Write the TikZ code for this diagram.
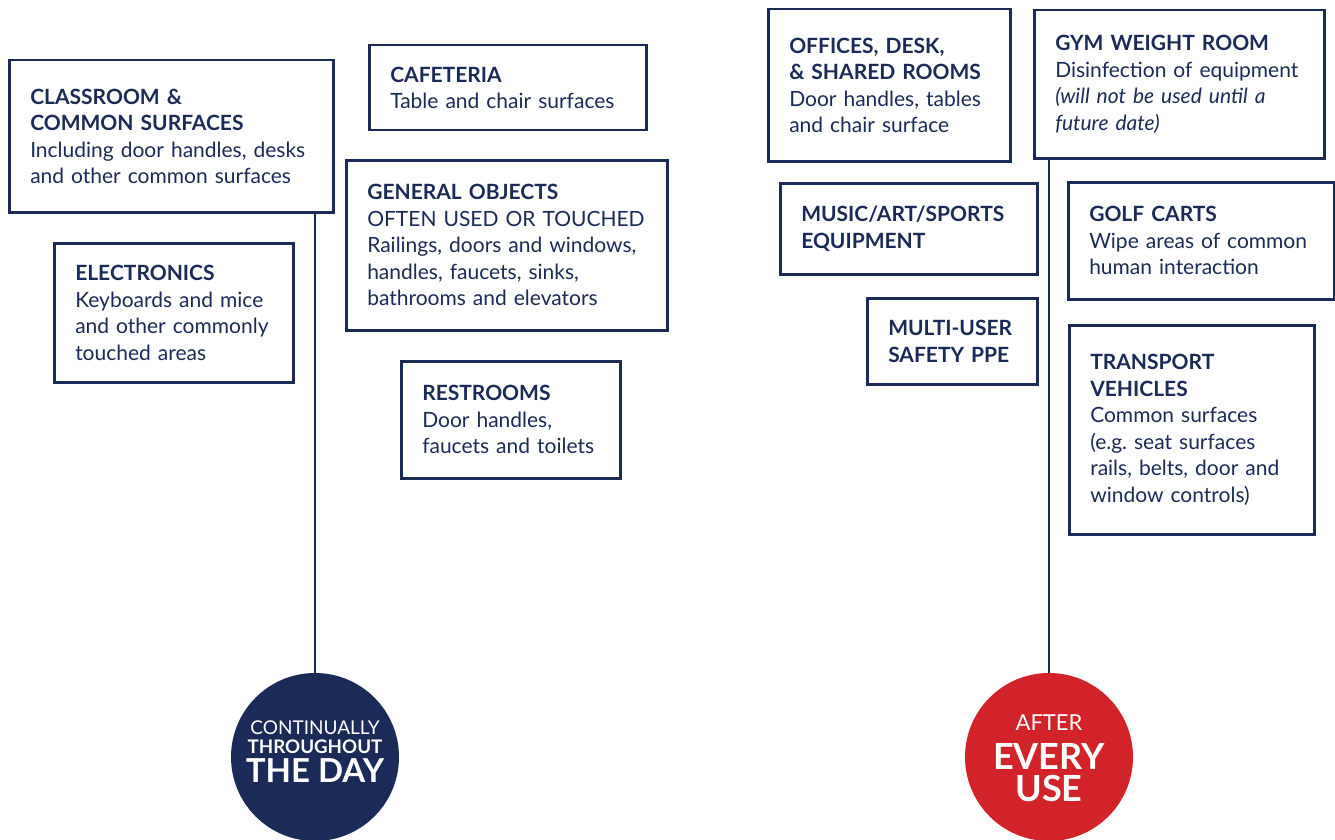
\documentclass[tikz,border=0pt]{standalone}
\usepackage{fontspec}
\setmainfont{Lato}
\definecolor{navy}{HTML}{1B2A56}
\definecolor{alertred}{HTML}{D2232A}
\begin{document}
\begin{tikzpicture}[x=1pt,y=-1pt,
  box/.style={draw=navy, line width=2.5pt, anchor=north west, align=left,
    inner xsep=21pt, inner ysep=0pt, text=navy,
    font=\fontsize{21}{26.5}\selectfont},
  stem/.style={draw=navy, line width=2.5pt},
  badge/.style={circle, inner sep=0pt, minimum size=168pt},
  badgetext/.style={anchor=base, inner sep=0pt, text=white, text depth=0pt}
]
\useasboundingbox (0,0) rectangle (1335,840);
\clip (0,0) rectangle (1335,840);

% left group: continually throughout the day
\node[box, text width=282pt, minimum height=152pt] (cls) at (8,59)
  {\textbf{CLASSROOM \&}\\\textbf{COMMON SURFACES}\\Including door handles, desks\\and other common surfaces\\[-6pt]};
\node[box, text width=235pt, minimum height=85pt] (caf) at (368,44)
  {\textbf{CAFETERIA}\\Table and chair surfaces};
\node[box, text width=197pt, minimum height=139pt] (elec) at (53,242)
  {\textbf{ELECTRONICS}\\Keyboards and mice\\and other commonly\\touched areas};
\node[box, text width=279pt, minimum height=170pt] (gen) at (345,159)
  {\textbf{GENERAL OBJECTS}\\OFTEN USED OR TOUCHED\\Railings, doors and windows,\\handles, faucets, sinks,\\bathrooms and elevators};
\node[box, text width=177pt, minimum height=117pt] (rest) at (400,360)
  {\textbf{RESTROOMS}\\Door handles,\\faucets and toilets};

% right group: after every use
\node[box, text width=200pt, minimum height=152pt] (off) at (767,8)
  {\textbf{OFFICES, DESK,}\\\textbf{\& SHARED ROOMS}\\Door handles, tables\\and chair surface};
\node[box, text width=248pt, minimum height=148pt] (gym) at (1033,9)
  {\textbf{GYM WEIGHT ROOM}\\Disinfection of equipment\\\textit{(will not be used until a}\\\textit{future date)}};
\node[box, text width=215pt, minimum height=91pt] (music) at (779,182)
  {\textbf{MUSIC/ART/SPORTS}\\\textbf{EQUIPMENT}};
\node[box, text width=128pt, minimum height=86pt] (ppe) at (866,297)
  {\textbf{MULTI-USER}\\\textbf{SAFETY PPE}};
\node[box, text width=224pt, minimum height=117pt] (golf) at (1067,181)
  {\textbf{GOLF CARTS}\\Wipe areas of common\\human interaction};
\node[box, text width=203pt, minimum height=209pt] (trans) at (1068,324)
  {\textbf{TRANSPORT}\\\textbf{VEHICLES}\\Common surfaces\\(e.g.\ seat surfaces\\rails, belts, door and\\window controls)};

% frequency badges
\node[badge, fill=navy] (day) at (315,757) {};
\node[badgetext, font=\fontsize{19}{19}\selectfont] (dayA) at (315,734) {CONTINUALLY};
\node[badgetext, font=\fontsize{18.7}{19}\selectfont\bfseries] (dayB) at (315,753) {THROUGHOUT};
\node[badgetext, font=\fontsize{33}{33}\selectfont\bfseries] (dayC) at (315,782) {THE DAY};

\node[badge, fill=alertred] (use) at (1049,757) {};
\node[badgetext, font=\fontsize{22}{22}\selectfont] (useA) at (1049,730) {AFTER};
\node[badgetext, font=\fontsize{36}{36}\selectfont\bfseries, text height=25pt] (useB) at (1049,769) {EVERY};
\node[badgetext, font=\fontsize{36}{36}\selectfont\bfseries, text height=25pt] (useC) at (1049,801) {USE};

% stems
\draw[stem] (day.north |- cls.south) -- (day.north);
\draw[stem] (use.north |- gym.south) -- (use.north);
\end{tikzpicture}
\end{document}
